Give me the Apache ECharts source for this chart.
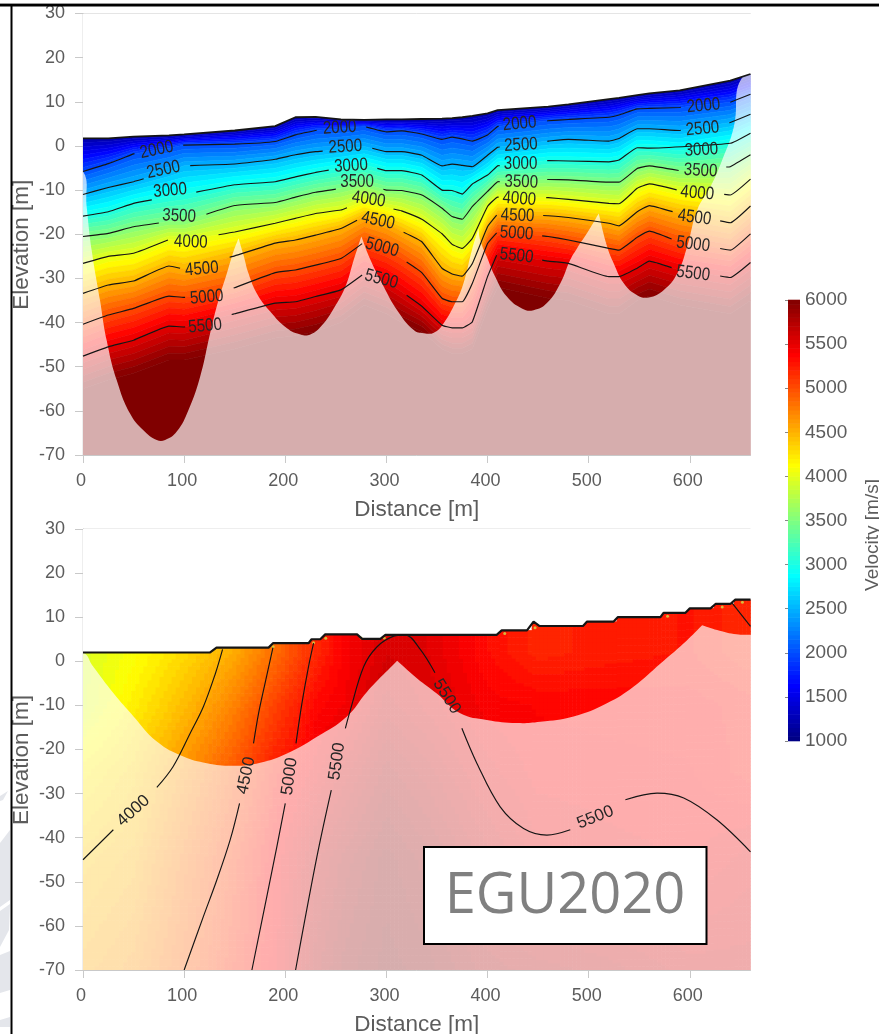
<!DOCTYPE html>
<html>
<head>
<meta charset="utf-8">
<title>EGU2020 velocity sections</title>
<style>html,body{margin:0;padding:0;background:#fff}#c{width:879px;height:1034px}</style>
<script src="https://cdn.jsdelivr.net/npm/echarts@6/dist/echarts.min.js"></script>
</head>
<body>
<div id="c"></div>
<script>
// ---- axis ticks ----
const distanceTicks = [0,100,200,300,400,500,600];
const elevationTicks = [-70,-60,-50,-40,-30,-20,-10,0,10,20,30];

// ---- jet colour map (velocity -> rgb) ----
const jetVelocity = [1000,1625,2875,4125,5375,6000];
const jetColor = [[0,0,128],[0,0,255],[0,255,255],[255,255,0],[255,0,0],[128,0,0]];

// ---- upper section: stations and contours ----
const topStations = [0,25,50,85,100,150,190,210,230,255,278,300,315,335,355,365,375,385,400,410,460,480,520,530,548,560,590,640,660];
const topSurface = [1.7,1.7,2.1,2.4,2.6,3.5,4.5,6.5,6.6,6,5.9,6,6,6.1,6.2,6.3,6.5,6.8,7.4,8.1,8.9,9.4,10.6,10.9,11.5,11.9,12.6,14.8,16.3];
const contour2000 = [-5.8,-4,-1.8,-0.5,0.2,0.4,1,2.5,3.5,3.9,4.4,3.2,3.4,2.7,1.5,2,1.6,1.1,2.5,4.4,5.7,6,6.5,7,8.4,8.5,8.7,9.9,11.7];
const contour2500 = [-11,-9.4,-8.1,-5.8,-4.5,-4.1,-3,-2,-1.3,-0.8,-0.1,-1.3,-1.3,-2.1,-4.5,-4.1,-4.4,-4.7,-2.1,-0.3,1.1,1.5,1.1,1.7,3.9,3.9,3.5,5.3,7.2];
const contour3000 = [-15.9,-14.9,-13,-11.5,-11,-8.8,-8.1,-7,-6,-5,-4.3,-5.6,-5.6,-6.6,-10,-10.1,-10.9,-8.6,-6.6,-4.5,-3.3,-3.4,-3.6,-3.2,-0.4,-0.5,-1.1,0.6,2.9];
const contour3500 = [-20.5,-19.8,-18.3,-17.1,-17,-13.5,-12.8,-11.6,-10.5,-9.6,-8.6,-10,-10.1,-11.1,-14.1,-16,-16.6,-13.7,-10.3,-8.1,-7.6,-7.7,-8.2,-8.2,-5.1,-4.5,-5.6,-4.7,-2];
const contour4000 = [-26.6,-25,-24.3,-21.2,-21.4,-19.5,-17.5,-16.4,-15.3,-14.5,-12.5,-13.9,-14.7,-16.6,-19.9,-22.3,-23.2,-20.9,-13.7,-11.6,-11.7,-12.1,-13,-13.1,-9.6,-8.6,-10.1,-11.1,-7.5];
const contour4500 = [-33.4,-31.5,-30.6,-27.2,-27.9,-24.9,-22,-21.3,-20.2,-18.7,-16,-17.5,-19.3,-21.7,-27.7,-29,-29.5,-26.6,-18.3,-15.4,-15.8,-16.2,-17.5,-18.1,-14.9,-13.5,-15.3,-17.4,-13.6];
const contour5000 = [-40.4,-38.3,-36.8,-34,-34.3,-32.1,-28.7,-28.1,-27,-25.5,-21.8,-23.6,-25.5,-28.7,-34.5,-35.3,-35.3,-31.1,-22.1,-19.4,-20.5,-21.3,-23.2,-23.6,-20.7,-19.3,-21.7,-23.6,-19.9];
const contour5500 = [-47.6,-45.5,-44,-40.8,-41,-38,-35.6,-35.3,-34.1,-32.6,-28.9,-30.7,-33,-36.3,-40.6,-41.2,-41.2,-39.8,-29.6,-24.2,-26.1,-26.6,-29.6,-29.6,-27.7,-26.1,-28.1,-29.8,-26.4];
const shade6000  = [-55,-53,-51.5,-48.5,-48.5,-46,-43.5,-43,-42,-40,-36,-38,-40,-42,-46,-47,-47,-46,-37,-32,-34.5,-35,-38,-38,-35,-34,-36,-38,-35];
// label gaps on each contour [from, to] in metres
const gaps2000 = [[51,99],[231,280],[411,459],[591,640]];
const gaps2500 = [[60,106],[237,286],[412,459],[591,639]];
const gaps3000 = [[68,112],[243,291],[412,459],[590,638]];
const gaps3500 = [[75,122],[250,297],[412,459],[589,636]];
const gaps4000 = [[84,134],[261,307],[411,458],[587,634]];
const gaps4500 = [[96,145],[271,317],[409,455],[583,630]];
const gaps5000 = [[101,149],[276,320],[409,454],[582,630]];
const gaps5500 = [[101,147],[276,320],[409,454],[582,630]];
// contour labels: distance, elevation, angle, text
const topLabels = [
 [72.9,-0.9,12,'2000'],[79.5,-5.4,12,'2500'],[86.1,-10.1,5,'3000'],[95,-15.9,-3,'3500'],[106.6,-21.8,-2,'4000'],[117.5,-27.9,5,'4500'],[122.4,-34.3,5,'5000'],[120.8,-40.8,5,'5500'],
 [253.8,4.1,3,'2000'],[259.4,-0.2,3,'2500'],[265,-4.5,3,'3000'],[271,-8.1,0,'3500'],[282.5,-12.1,-8,'4000'],[291.7,-16.9,-12,'4500'],[295.7,-23,-15,'5000'],[295,-30.2,-15,'5500'],
 [431.7,5,5,'2000'],[433,0.2,3,'2500'],[432.7,-4.2,0,'3000'],[433.3,-8.2,-2,'3500'],[431.4,-12,-4,'4000'],[429.7,-15.8,-2,'4500'],[428.7,-19.8,-4,'5000'],[428.7,-24.9,-6,'5500'],
 [613.5,9.1,5,'2000'],[612.5,3.9,5,'2500'],[611.5,-0.9,3,'3000'],[610.6,-5.6,-3,'3500'],[607.3,-10.7,-5,'4000'],[604.6,-16.2,-7,'4500'],[603.3,-22.3,-7,'5000'],[603.3,-28.9,-7,'5500']
];
// limit of ray coverage in the upper section
const topCoverage = [[0,-5.8],[3.6,-13.7],[8.6,-23.6],[16.8,-34.9],[23.4,-44],[33.3,-53],[46.5,-60.6],[59.7,-64.4],[72.9,-66.6],[81.2,-66.6],[92.7,-64.7],[104.3,-59.8],[115.8,-52.3],[125.7,-42.4],[134,-34.9],[142.2,-28.9],[148.8,-23.9],[153.8,-20.9],[158.7,-24.7],[163.7,-28.9],[171.9,-33.4],[185.1,-37.5],[201.7,-41.3],[214.9,-42.7],[224.8,-42.7],[236.3,-40.6],[247.9,-36.8],[259.4,-31.9],[267.7,-25.8],[275.2,-20.5],[284.2,-25.8],[297.4,-31.9],[310.6,-37.2],[327,-41.7],[336.9,-42.4],[346.9,-42.3],[356.4,-40.2],[368,-35.6],[376.2,-31.1],[384.5,-23.6],[391,-18.7],[392.7,-21.3],[399.3,-25.1],[407.6,-29.6],[419.1,-34.1],[434,-36.8],[445.5,-37.2],[458.7,-35.6],[472,-31.1],[481.8,-25.8],[488.4,-23.2],[498.3,-19.8],[509.9,-15.3],[518.2,-22.8],[524.8,-26.6],[534.7,-31.1],[547.9,-33.8],[559.4,-34.3],[574.3,-32.6],[587.5,-28.9],[597.4,-22.8],[607.3,-14.5],[620.5,-9.2],[632,-3.2],[643.6,4.4],[651.8,15.5]];
const topCoveragePeaks = [153.8,275.2,391,509.9];

// ---- lower section ----
const lowSurface = [[0,2],[125.7,2],[132,3.1],[183.5,3.1],[187.8,4.1],[223,4.1],[226,5],[234.6,5],[239.5,6.1],[271,6.1],[276,5.1],[294,5.1],[299,6],[409,6],[414,7],[439,7],[445.5,9],[451.5,8],[494.4,8],[498.4,9],[524.7,9],[528.7,10],[571,10],[574,11],[595.7,11],[600,12],[620.5,12],[625.4,13],[640,13],[645,14],[660,14]];
const lowCoverage = [[0,2],[10,-1.2],[30,-7.2],[50,-12.5],[73,-18.2],[99.3,-21.6],[122.4,-23.1],[148.8,-23.7],[175.2,-23],[201.7,-20.9],[231.3,-17.1],[261,-12.5],[280.9,-6.9],[310.6,0.1],[330.4,-3.9],[349.8,-7.3],[373,-11.8],[399.3,-13.3],[429,-14],[452,-13.7],[485,-12.5],[518,-9.5],[544.6,-5.7],[571,-0.5],[594,4.1],[612.2,8.2],[627,7.1],[643.6,6.2],[660,6]];
const lowCoveragePeaks = [310.6,612.2];
const fieldDistance = [0,50,100,150,190,230,260,300,340,400,450,520,600,660];
const fieldElevation = [15,2,-10,-25,-45,-70];
const fieldRow15  = [3950,4100,4300,4540,4840,5180,5400,5570,5530,5330,5200,5250,5280,5180];
const fieldRow2   = [3950,4100,4300,4540,4840,5180,5400,5570,5530,5330,5200,5250,5280,5180];
const fieldRowM10 = [3950,4200,4450,4740,5050,5350,5430,5650,5560,5400,5370,5360,5350,5300];
const fieldRowM25 = [4200,4350,4650,4950,5250,5450,5600,5800,5700,5500,5400,5390,5380,5300];
const fieldRowM45 = [4400,4500,4800,5100,5380,5650,5800,5950,5850,5650,5500,5450,5420,5500];
const fieldRowM70 = [4550,4650,4900,5180,5400,5750,5900,6000,5950,5800,5750,5700,5600,5600];
const lowLine4000 = [[0,-45],[30,-38.2],null,[73,-28.6],[89,-23.9],[106,-16.3],[119,-10.3],[131,-2.7],[138,2.7]];
const lowLine4500 = [[187.8,3.1],[180,-5],[173.6,-11.8],[168.6,-18.6],null,[154.8,-32.2],[145.5,-40.5],[132.3,-49.6],[119,-57.9],[100,-70]];
const lowLine5000 = [[228,4.1],[223,-1.2],[216.5,-9.5],[210.6,-18.6],null,[200,-32.2],[191.7,-42],[181.8,-53.3],[167,-70]];
const lowLine5500 = [[210.2,-70],[231.3,-44.3],[245.5,-29.2],null,[259.4,-15.2],[264.4,-11],[277.6,-1.2],[290.8,3.3],[307.3,5.7],[318.8,6],[333.5,2.7],[348,-2.6],null,[374.6,-15.2],[389.4,-23.1],[412.5,-33],[435.6,-37.9],[458.7,-39.4],[481.8,-38.2],null,[536.3,-31.4],[567.7,-29.9],[594,-31],[627,-36],[660,-43.2]];
const lowLineEdge = [[641.9,13.2],[660,7.9]];
const lowLabels = [[49.8,-33.9,42,'4000'],[161.4,-25.9,78,'4500'],[204.3,-26.1,82,'5000'],[251.2,-22.7,82,'5500'],[359.7,-8,-58,'5500'],[506.6,-35.4,22,'5500']];
const lowSpots = [[188,3.3],[228,4.2],[240,5.2],[275,5.3],[298,5.3],[417,6.3],[447,7.6],[578,10.2],[632,12.3],[652,13.4]];

// ---- colour helpers ----
function jet(v){
  v = Math.max(1000, Math.min(6000, v));
  let k = 0;
  while (k < jetVelocity.length-2 && v > jetVelocity[k+1]) k++;
  const t = (v-jetVelocity[k])/(jetVelocity[k+1]-jetVelocity[k]);
  const c = jetColor[k].map((a,i)=>Math.round(a+(jetColor[k+1][i]-a)*t));
  return 'rgb('+c.join(',')+')';
}

// ---- upper field bands between the contours ----
const levelV = [1200,2000,2500,3000,3500,4000,4500,5000,5500,6000];
const levelY = [topSurface,contour2000,contour2500,contour3000,contour3500,contour4000,contour4500,contour5000,contour5500,shade6000];
function levelAt(v,i){
  let k=0;
  while(k<levelV.length-2 && v>levelV[k+1]) k++;
  const t=(v-levelV[k])/(levelV[k+1]-levelV[k]);
  return levelY[k][i]+(levelY[k+1][i]-levelY[k][i])*t;
}
const topBands=[];
for(let v=1200;v<6000;v+=100){
  const up=topStations.map((x,i)=>[x,levelAt(v,i)]);
  const dn=topStations.map((x,i)=>[x,levelAt(v+100,i)]).reverse();
  topBands.push({pts:up.concat(dn),color:jet(v+50),stroke:jet(v+50)});
}
topBands.push({pts:topStations.map((x,i)=>[x,shade6000[i]]).concat([[660,-70],[0,-70]]),color:jet(6000),stroke:jet(6000)});

function polySeries(axis,items,z){
  return {
    type:'custom',xAxisIndex:axis,yAxisIndex:axis,clip:true,z:z,silent:true,animation:false,progressive:0,
    data:items.map((b,i)=>[0,0,i]),
    renderItem:function(params,api){
      const b=items[params.dataIndex];
      return {type:'polygon',shape:{points:b.pts.map(p=>api.coord(p)),smooth:b.smooth||0},
        style:{fill:b.color,stroke:b.stroke||'none',lineWidth:b.stroke?0.6:0,opacity:b.opacity==null?1:b.opacity}};
    }};
}
// sharp corners stay sharp in a smoothed outline when their point is doubled
function withCorners(points,peaks,closing){
  const out=[];
  points.forEach(p=>{ out.push(p); if(peaks.indexOf(p[0])>=0) out.push(p); });
  closing.forEach(p=>{ out.push(p,p); });
  return out;
}

// ---- lower field cells ----
const fieldRows=[fieldRow15,fieldRow2,fieldRowM10,fieldRowM25,fieldRowM45,fieldRowM70];
function fieldAt(x,y){
  let c=0; while(c<fieldDistance.length-2 && x>fieldDistance[c+1]) c++;
  let r=0; while(r<fieldElevation.length-2 && y<fieldElevation[r+1]) r++;
  const tx=(x-fieldDistance[c])/(fieldDistance[c+1]-fieldDistance[c]);
  const ty=(fieldElevation[r]-y)/(fieldElevation[r]-fieldElevation[r+1]);
  const a=fieldRows[r][c]+(fieldRows[r][c+1]-fieldRows[r][c])*tx;
  const b=fieldRows[r+1][c]+(fieldRows[r+1][c+1]-fieldRows[r+1][c])*tx;
  return a+(b-a)*ty;
}
const cellW=4, cellH=0.8, fieldCells=[];
function lowTopAt(x){
  let top=2;
  lowSurface.forEach(p=>{ if(p[0]<=x+cellW) top=Math.max(top,p[1]); });
  return top;
}
for(let x=0;x<660;x+=cellW){
  const roof=lowTopAt(x);
  for(let y=roof;y>-70;y-=cellH){
    const v=fieldAt(x+cellW/2,y-cellH/2);
    fieldCells.push([x,y,Math.round(v/50)*50]);
  }
}
const lowWhite=[{pts:lowSurface.concat([[680,14],[680,30],[-20,30],[-20,2]]),color:'#ffffff'}];

function lineData(stations,ys,gaps){
  const out=[];
  const at=x=>{let k=0;while(k<stations.length-2&&x>stations[k+1])k++;
    return ys[k]+(ys[k+1]-ys[k])*(x-stations[k])/(stations[k+1]-stations[k]);};
  let g=0;
  stations.forEach((x,i)=>{
    while(g<gaps.length && x>gaps[g][1]) g++;
    if(g<gaps.length && x>=gaps[g][0]) return;
    out.push([x,ys[i]]);
    if(g<gaps.length && i+1<stations.length && stations[i+1]>gaps[g][0]){
      out.push([gaps[g][0],at(gaps[g][0])],[null,null],[gaps[g][1],at(gaps[g][1])]);
    }
  });
  return out;
}
function contourSeries(axis,data,smooth,width){
  return {type:'line',xAxisIndex:axis,yAxisIndex:axis,data:data.map(p=>p||[null,null]),showSymbol:false,symbol:'none',
    smooth:smooth,connectNulls:false,silent:true,animation:false,z:6,clip:true,
    lineStyle:{color:'#151515',width:width||1.15}};
}
function labelSeries(axis,labels,size,squeeze){
  return {type:'custom',xAxisIndex:axis,yAxisIndex:axis,clip:false,z:7,silent:true,animation:false,
    data:labels.map(l=>[l[0],l[1]]),
    renderItem:function(params,api){
      const l=labels[params.dataIndex],p=api.coord([l[0],l[1]]);
      return {type:'text',x:p[0],y:p[1],rotation:l[2]*Math.PI/180,scaleX:squeeze,scaleY:1,
        style:{text:l[3],fill:'#262626',font:size+'px "Liberation Sans", Arial, sans-serif',align:'center',verticalAlign:'middle'}};
    }};
}
const colorbarSteps=[];
for(let v=1000;v<6000;v+=50) colorbarSteps.push(v);

const topContourSets=[[contour2000,gaps2000],[contour2500,gaps2500],[contour3000,gaps3000],[contour3500,gaps3500],[contour4000,gaps4000],[contour4500,gaps4500],[contour5000,gaps5000],[contour5500,gaps5500]];

const font='"Liberation Sans", Arial, sans-serif';
const textGrey='#5c5c5c', axisGrey='#c9c9c9';
function xAxis(i){
  return {gridIndex:i,type:'value',min:0,max:660,interval:100,name:'Distance [m]',nameLocation:'middle',nameGap:43,nameMoveOverlap:false,
    nameTextStyle:{color:textGrey,fontSize:22.5,fontFamily:font},
    axisLine:{show:true,onZero:false,lineStyle:{color:axisGrey,width:1}},
    axisTick:{show:true,length:8,lineStyle:{color:axisGrey},customValues:distanceTicks},
    axisLabel:{color:textGrey,fontSize:18,fontFamily:font,margin:17,padding:[0,4,0,0],customValues:distanceTicks},
    splitLine:{show:false}};
}
function yAxis(i){
  return {gridIndex:i,type:'value',min:-70,max:30,interval:10,name:'Elevation [m]',nameLocation:'middle',nameGap:50,nameMoveOverlap:false,
    nameTextStyle:{color:textGrey,fontSize:22.5,fontFamily:font,padding:[0,21,0,0]},
    axisLine:{show:true,onZero:false,lineStyle:{color:axisGrey,width:1}},
    axisTick:{show:true,length:8,lineStyle:{color:axisGrey}},
    axisLabel:{color:textGrey,fontSize:18,fontFamily:font,margin:18,customValues:elevationTicks},
    splitLine:{show:false}};
}
const series=[];
// upper section
series.push(polySeries(0,topBands,1));
series.push(polySeries(0,[{pts:withCorners([[-20,-5.8]].concat(topCoverage),topCoveragePeaks,[[680,17],[680,-90],[-20,-90]]),color:'#ffffff',opacity:0.68,smooth:0.45}],3));
series.push(polySeries(0,[{pts:topStations.map((x,i)=>[x,topSurface[i]]).concat([[680,16.3],[680,30],[-20,30],[-20,1.7]]),color:'#ffffff'}],4));
series.push(contourSeries(0,topStations.map((x,i)=>[x,topSurface[i]]),false,1.8));
topContourSets.forEach(s=>series.push(contourSeries(0,lineData(topStations,s[0],s[1]),0.12)));
series.push(labelSeries(0,topLabels,18,0.84));
// lower section
series.push({type:'custom',xAxisIndex:1,yAxisIndex:1,clip:true,z:1,silent:true,animation:false,progressive:0,
  data:fieldCells,
  renderItem:function(params,api){
    const a=api.coord([api.value(0),api.value(1)]);
    const b=api.coord([api.value(0)+cellW,api.value(1)-cellH]);
    return {type:'rect',shape:{x:a[0]-0.3,y:a[1]-0.3,width:b[0]-a[0]+0.6,height:b[1]-a[1]+0.6},style:{fill:jet(api.value(2))}};
  }});
series.push(polySeries(1,[{pts:withCorners([[-20,2]].concat(lowCoverage),lowCoveragePeaks,[[680,6],[680,-90],[-20,-90]]),color:'#ffffff',opacity:0.68,smooth:0.45}],3));
series.push(polySeries(1,lowWhite,4));
series.push(contourSeries(1,lowSurface,false,2.2));
series.push({type:'scatter',xAxisIndex:1,yAxisIndex:1,data:lowSpots,symbolSize:3,itemStyle:{color:'#cfe04a'},silent:true,animation:false,z:5});
[lowLine4000,lowLine4500,lowLine5000,lowLine5500,lowLineEdge].forEach(l=>series.push(contourSeries(1,l,0.35)));
series.push(labelSeries(1,lowLabels,17,1));
// colour bar
series.push({type:'custom',xAxisIndex:2,yAxisIndex:2,clip:false,z:2,silent:true,animation:false,progressive:0,
  data:colorbarSteps.map(v=>[0,v]),
  renderItem:function(params,api){
    const a=api.coord([0,api.value(1)]),b=api.coord([1,api.value(1)+50]);
    return {type:'rect',shape:{x:a[0],y:b[1]-0.3,width:b[0]-a[0],height:a[1]-b[1]+0.6},style:{fill:jet(api.value(1)+25)}};
  }});

const chart=echarts.init(document.getElementById('c'),null,{width:879,height:1034});
chart.setOption({
  backgroundColor:'#ffffff',animation:false,
  tooltip:{show:false},
  grid:[
    {left:83,top:13.5,width:667.5,height:441.5,show:true,borderColor:'#dcdcdc',borderWidth:1,backgroundColor:'transparent',containLabel:false,outerBoundsMode:'none'},
    {left:83,top:529,width:667.5,height:441,show:true,borderColor:'#dcdcdc',borderWidth:1,backgroundColor:'transparent',containLabel:false,outerBoundsMode:'none'},
    {left:788,top:300,width:12,height:441,containLabel:false,outerBoundsMode:'none'}
  ],
  xAxis:[xAxis(0),xAxis(1),{gridIndex:2,type:'value',min:0,max:1,show:false}],
  yAxis:[yAxis(0),yAxis(1),{gridIndex:2,type:'value',position:'right',min:1000,max:6000,interval:500,
    name:'Velocity [m/s]',nameLocation:'middle',nameRotate:90,nameGap:63,
    nameTextStyle:{color:textGrey,fontSize:19,fontFamily:font,padding:[0,29,0,0]},
    axisLine:{show:false},axisTick:{show:true,inside:true,length:3,lineStyle:{color:'#888'}},
    axisLabel:{color:textGrey,fontSize:19,fontFamily:font,margin:5,formatter:function(v){return String(v);}},splitLine:{show:false}}],
  series:series,
  graphic:[
    {type:'polygon',z:100,silent:true,shape:{points:[[0,796],[8,791],[3,800],[0,801]]},style:{fill:'#e4e6eb'}},
    {type:'polygon',z:100,silent:true,shape:{points:[[0,843],[10,830],[10,900],[0,907]]},style:{fill:'#e4e6eb'}},
    {type:'polygon',z:100,silent:true,shape:{points:[[0,911],[10,904],[9,930],[0,947]]},style:{fill:'#e4e6eb'}},
    {type:'polygon',z:100,silent:true,shape:{points:[[0,955],[10,951],[10,990],[0,993]]},style:{fill:'#e4e6eb'}},
    {type:'polygon',z:100,silent:true,shape:{points:[[0,1020],[10,1017],[10,1027],[0,1027]]},style:{fill:'#e4e6eb'}},
    {type:'rect',z:100,silent:true,shape:{x:0,y:3,width:879,height:1},style:{fill:'#999999'}},
    {type:'rect',z:100,silent:true,shape:{x:0,y:4,width:879,height:2.5},style:{fill:'#000000'}},
    {type:'rect',z:100,silent:true,shape:{x:10.5,y:4,width:2,height:1030},style:{fill:'#000000'}},
    {type:'rect',z:100,silent:true,shape:{x:424,y:847,width:282.5,height:97},style:{fill:'#ffffff',stroke:'#000000',lineWidth:2}},
    {type:'text',z:101,silent:true,x:565,y:897,style:{text:'EGU2020',fill:'#808080',font:'56px "Open Sans", "Noto Sans", sans-serif',align:'center',verticalAlign:'middle'}}
  ]
});
</script>
</body>
</html>
